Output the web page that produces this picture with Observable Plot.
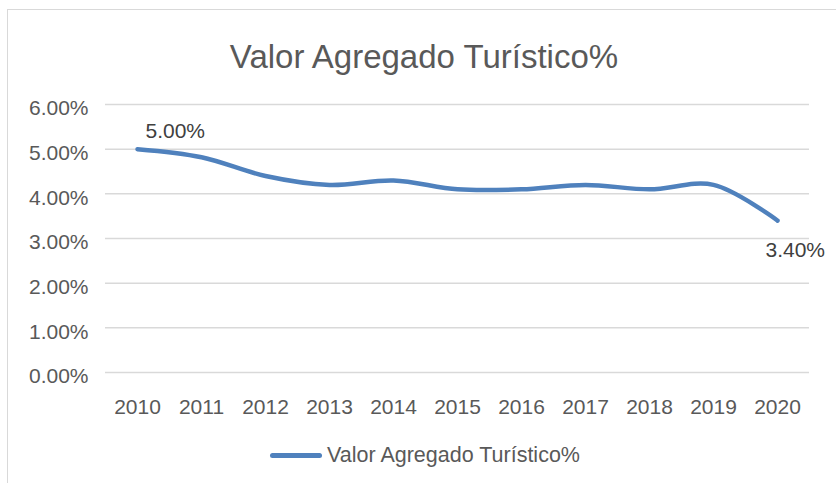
<!DOCTYPE html>
<html>
<head>
<meta charset="utf-8">
<script src="https://cdn.jsdelivr.net/npm/d3@7"></script>
<script src="https://cdn.jsdelivr.net/npm/@observablehq/plot@0.6"></script>
<style>
  html, body { margin: 0; padding: 0; background: #fff; }
  #wrap { position: relative; width: 836px; height: 483px; overflow: hidden; font-family: "Liberation Sans", Arial, sans-serif; color: #595959; }
  #frame { position: absolute; left: 7px; top: 9px; width: 840px; height: 480px; border: 1.5px solid #d9d9d9; box-sizing: border-box; }
  #title { position: absolute; left: 0; width: 848px; top: 38px; text-align: center; font-size: 33px; color: #595959; }
  #chart { position: absolute; left: 0; top: 90px; }
  #legend { position: absolute; top: 443px; left: 270px; display: flex; align-items: center; font-size: 21.5px; color: #595959; }
  #legend .sw { width: 52px; height: 5px; border-radius: 3px; background: #4f81bd; margin-right: 5px; }
</style>
</head>
<body>
<div id="wrap">
  <div id="frame"></div>
  <div id="title">Valor Agregado Turístico%</div>
  <div id="chart"></div>
  <div id="legend"><div class="sw"></div><span>Valor Agregado Turístico%</span></div>
</div>
<script>
const years = ["2010","2011","2012","2013","2014","2015","2016","2017","2018","2019","2020"];
const values = [5.0, 4.82, 4.4, 4.2, 4.3, 4.1, 4.1, 4.2, 4.1, 4.2, 3.4];
const yTicks = [0, 1, 2, 3, 4, 5, 6];

const data = years.map((y, i) => ({year: y, value: values[i]}));
const color = "#4f81bd";

const chart = Plot.plot({
  width: 836,
  height: 340,
  marginLeft: 105,
  marginRight: 27,
  marginTop: 14,
  marginBottom: 58,
  style: {fontFamily: "Liberation Sans, Arial, sans-serif", fontSize: "21px", color: "#595959", background: "transparent"},
  x: {type: "point", domain: years, padding: 0.5, label: null, tickSize: 0, tickPadding: 27},
  y: {domain: [0, 6], ticks: yTicks, label: null, tickSize: 0, tickPadding: 17, tickFormat: d => d.toFixed(2) + "%"},
  marks: [
    Plot.gridY(yTicks, {stroke: "#d9d9d9", strokeOpacity: 1, strokeWidth: 1.5}),
    Plot.axisY({ticks: yTicks, tickSize: 0, tickPadding: 17, dy: 4, label: null, tickFormat: d => d.toFixed(2) + "%"}),
    Plot.line(data, {x: "year", y: "value", stroke: color, strokeWidth: 4.5, curve: "catmull-rom"}),
    Plot.text([data[0]], {x: "year", y: "value", text: d => d.value.toFixed(2) + "%", textAnchor: "start", dx: 8, dy: -18, fill: "#404040", fontSize: 21}),
    Plot.text([data[data.length - 1]], {x: "year", y: "value", text: d => d.value.toFixed(2) + "%", textAnchor: "start", dx: -12, dy: 30, fill: "#404040", fontSize: 21})
  ]
});
document.getElementById("chart").appendChild(chart);
</script>
</body>
</html>
